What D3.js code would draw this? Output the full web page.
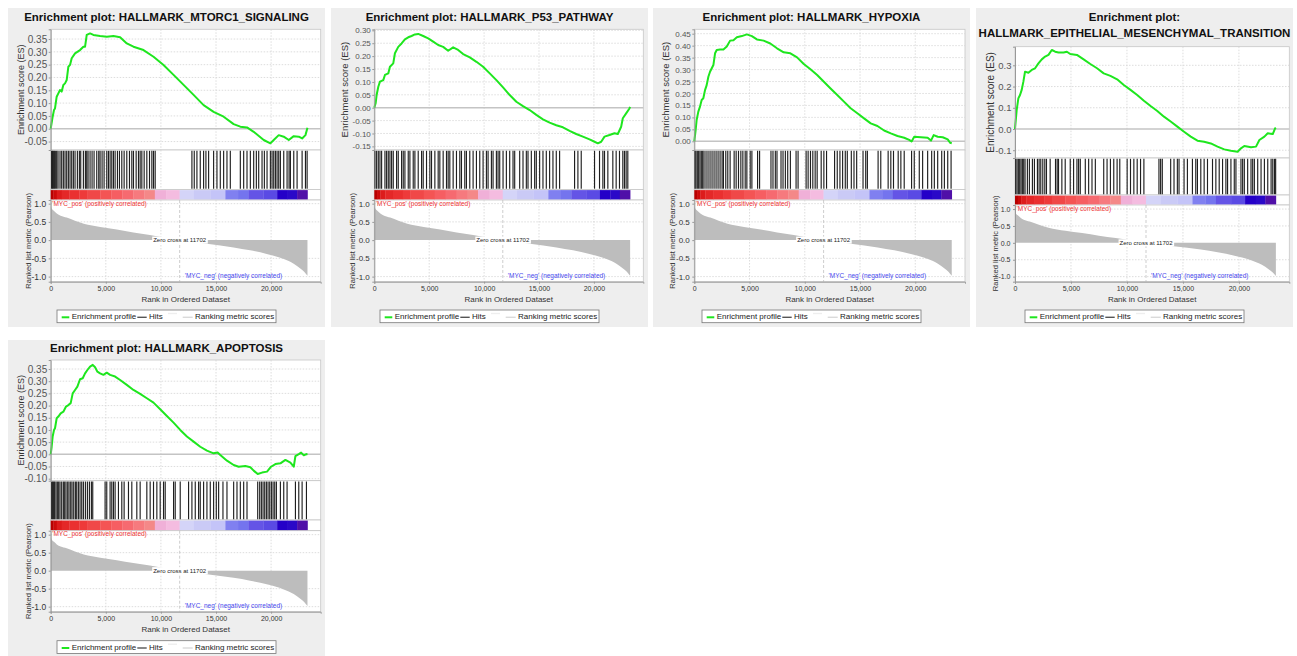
<!DOCTYPE html>
<html>
<head>
<meta charset="utf-8">
<script src="https://cdn.jsdelivr.net/npm/d3@7.9.0/dist/d3.min.js"></script>
<style>
  body { margin: 0; background: #fff; }
  svg { display: block; }
</style>
</head>
<body>
<svg id="chart" width="1297" height="656"></svg>
<script>
const FONT = "'Liberation Sans', Arial, sans-serif";
const RANK_MAX = 24500;
const N_GENES = 23300;
const ZERO_CROSS = 11702;
const RANK_TICKS = [0, 5000, 10000, 15000, 20000];
const METRIC_TICKS = [-1, -0.5, 0, 0.5, 1];

// ranked list metric (Pearson), shared by all plots
const metricRanks = [0, 100, 300, 550, 900, 1450, 2200, 3000, 4500, 6000, 7500, 9000, 10500, 11702,
  12500, 14180, 16600, 18100, 19600, 21150, 22050, 22650, 23000, 23300];
const metricValues = [0.93, 0.86, 0.8, 0.73, 0.67, 0.62, 0.53, 0.45, 0.36, 0.29, 0.21, 0.14, 0.06, 0,
  -0.03, -0.1, -0.2, -0.28, -0.38, -0.52, -0.65, -0.78, -0.87, -0.98];

// heat bar under the hits
const colorBarStarts = [0, 250, 550, 1000, 1700, 2600, 3300, 4500, 5500, 6500, 7500, 8500, 9450, 10500,
  11700, 13000, 14500, 15850, 17000, 17950, 19300, 20550, 21500, 22360];
const colorBarColors = ['#b80000', '#cc0a0a', '#dd1c1c', '#e42828', '#ea3030', '#ee3a3a', '#f04848', '#f45454',
  '#f65e62', '#f66a70', '#f67a7e', '#f48888', '#f0b0d8', '#f4bce0', '#d4d4f8', '#cacaf6', '#c4c4f8',
  '#8080f0', '#7474ee', '#6454e6', '#5a4ae4', '#2400c8', '#2a08c8', '#5010a8'];

// HALLMARK_MTORC1_SIGNALING
const mtorc1EsRanks = [0, 179, 300, 391, 542, 694, 845, 997, 1148, 1300, 1451, 1603, 1754, 1906, 2209, 2663,
  2966, 3118, 3269, 3572, 3875, 4481, 5087, 5693, 6299, 6905, 7511, 8420, 9329, 10238, 11147, 12056, 12965,
  13874, 14783, 15692, 16601, 17207, 17813, 18419, 19328, 19934, 20237, 20692, 21146, 21601, 22055, 22510,
  22813, 23116, 23300];
const mtorc1EsValues = [0, 0.047, 0.073, 0.079, 0.125, 0.138, 0.151, 0.145, 0.171, 0.177, 0.19, 0.242, 0.249,
  0.275, 0.294, 0.307, 0.32, 0.32, 0.366, 0.372, 0.366, 0.362, 0.359, 0.362, 0.357, 0.333, 0.32, 0.307, 0.281,
  0.249, 0.21, 0.171, 0.132, 0.092, 0.066, 0.047, 0.018, 0.008, 0.005, -0.012, -0.044, -0.057, -0.044, -0.025,
  -0.031, -0.044, -0.029, -0.031, -0.038, -0.025, 0.004];
const mtorc1Hits = [88, 148, 239, 330, 421, 542, 664, 845, 997, 1148, 1300, 1451, 1603, 1754, 1906, 2057, 2209,
  2421, 2603, 2724, 2966, 3148, 3269, 3390, 3572, 3754, 3936, 4178, 4360, 4481, 4663, 4845, 5087, 5239, 5390,
  5542, 5693, 5845, 6057, 6239, 6451, 6663, 6905, 7148, 7360, 7511, 7754, 7966, 8117, 8269, 8481, 8723, 8966,
  9178, 9329, 9481, 12814, 13026, 13268, 13571, 13874, 14086, 14329, 14783, 15086, 15389, 15692, 15995, 16298,
  17207, 17510, 17813, 18116, 18419, 18661, 18874, 19177, 19389, 19631, 19934, 20086, 20237, 20389, 20540,
  20692, 20843, 21146, 21449, 21631, 21752, 22055, 22358, 22813, 23116, 23267];
const mtorc1EsTicks = [-0.05, 0, 0.05, 0.1, 0.15, 0.2, 0.25, 0.3, 0.35];

// HALLMARK_P53_PATHWAY
const p53EsRanks = [0, 121, 212, 364, 515, 818, 970, 1273, 1424, 1727, 1879, 2182, 2485, 2788, 3091, 3394, 3697,
  3999, 4454, 4909, 5363, 5818, 6272, 6727, 7181, 7636, 8090, 8696, 9302, 9908, 10514, 11120, 11726, 12332,
  12938, 13544, 14150, 14756, 15362, 15968, 16574, 17180, 17786, 18392, 18998, 19604, 20059, 20362, 20665,
  20968, 21422, 21877, 22180, 22483, 22634, 22937, 23240, 23300];
const p53EsValues = [0, 0.017, 0.049, 0.081, 0.101, 0.107, 0.127, 0.133, 0.159, 0.172, 0.211, 0.236, 0.249,
  0.265, 0.273, 0.278, 0.284, 0.286, 0.278, 0.269, 0.256, 0.243, 0.236, 0.221, 0.234, 0.224, 0.208, 0.195,
  0.178, 0.159, 0.133, 0.107, 0.079, 0.049, 0.023, 0.006, -0.009, -0.028, -0.045, -0.058, -0.068, -0.076,
  -0.09, -0.102, -0.112, -0.123, -0.132, -0.138, -0.132, -0.112, -0.106, -0.099, -0.102, -0.074, -0.041,
  -0.022, -0.003, 0.003];
const p53Hits = [61, 212, 364, 515, 667, 970, 1121, 1273, 1424, 1576, 1727, 2030, 2182, 2485, 2636, 2788, 3091,
  3242, 3545, 3697, 4000, 4303, 4454, 4757, 5060, 5212, 5515, 5818, 5969, 6272, 6575, 6727, 6878, 7181, 7484,
  7787, 7939, 8242, 8393, 8696, 8999, 9302, 9605, 9908, 10211, 10363, 10666, 10817, 11120, 11272, 11423,
  11726, 12029, 12332, 12635, 12787, 13241, 13544, 13847, 13999, 14302, 14605, 14756, 15059, 15362, 15665,
  15968, 16271, 16574, 16877, 18241, 18544, 18847, 20059, 20513, 20816, 20968, 21271, 21725, 22028, 22331,
  22634, 22786, 22937, 23089];
const p53EsTicks = [-0.15, -0.1, -0.05, 0, 0.05, 0.1, 0.15, 0.2, 0.25, 0.3];

// HALLMARK_HYPOXIA
const hypoxiaEsRanks = [0, 121, 212, 364, 515, 667, 818, 970, 1121, 1273, 1424, 1727, 1879, 2030, 2333, 2636,
  2939, 3242, 3545, 3848, 4302, 4757, 5211, 5666, 6272, 6878, 7484, 8090, 8696, 9302, 9908, 10514, 11120,
  11726, 12332, 12938, 13544, 14150, 14756, 15362, 15968, 16574, 17180, 17786, 18392, 18998, 19453, 19665,
  19907, 20513, 21119, 21422, 21665, 22028, 22483, 22937, 23150, 23300];
const hypoxiaEsValues = [0, 0.047, 0.089, 0.124, 0.145, 0.173, 0.18, 0.214, 0.235, 0.27, 0.291, 0.319, 0.368,
  0.382, 0.384, 0.384, 0.396, 0.421, 0.423, 0.435, 0.44, 0.447, 0.44, 0.426, 0.421, 0.409, 0.389, 0.372, 0.368,
  0.351, 0.323, 0.301, 0.277, 0.249, 0.221, 0.194, 0.166, 0.138, 0.117, 0.096, 0.075, 0.064, 0.045, 0.033,
  0.022, 0.015, 0.006, -0.001, 0.019, 0.017, 0.015, 0.003, 0.026, 0.019, 0.017, 0.008, -0.006, -0.008];
const hypoxiaHits = [61, 152, 273, 394, 515, 636, 758, 879, 1061, 1242, 1424, 1606, 1788, 1970, 2151, 2333, 2515,
  2636, 2848, 3030, 3242, 3606, 3788, 4000, 4212, 4394, 4606, 4757, 5060, 5212, 5727, 5909, 6939, 7121, 7333,
  7484, 7848, 8030, 8242, 8454, 8696, 9211, 9393, 10120, 10302, 10514, 10726, 10938, 11120, 11484, 11726,
  11969, 12696, 12938, 13181, 13423, 13665, 13847, 14211, 14453, 14696, 15271, 15514, 15665, 16635, 16877,
  17544, 17786, 18029, 18453, 18695, 18998, 19665, 19907, 20362, 20665, 21119, 21483, 21725, 22028, 22392,
  22634, 22937, 23240];
const hypoxiaEsTicks = [0, 0.05, 0.1, 0.15, 0.2, 0.25, 0.3, 0.35, 0.4, 0.45];

// HALLMARK_EPITHELIAL_MESENCHYMAL_TRANSITION
const emtEsRanks = [0, 150, 299, 449, 598, 748, 897, 1196, 1495, 1794, 2093, 2392, 2691, 2990, 3289, 3588, 3887,
  4336, 4635, 4934, 5532, 6130, 6728, 7326, 7924, 8522, 9120, 9718, 10316, 10914, 11512, 12110, 12708, 13306,
  13904, 14502, 15100, 15698, 16296, 16894, 17492, 18090, 18688, 19286, 19884, 20183, 20482, 21080, 21528,
  21827, 22276, 22575, 23023, 23232, 23300];
const emtEsValues = [0, 0.089, 0.144, 0.16, 0.184, 0.223, 0.27, 0.265, 0.278, 0.286, 0.309, 0.328, 0.341, 0.349,
  0.372, 0.364, 0.36, 0.36, 0.364, 0.353, 0.349, 0.328, 0.306, 0.286, 0.262, 0.25, 0.234, 0.207, 0.184, 0.16,
  0.133, 0.108, 0.085, 0.058, 0.035, 0.011, -0.013, -0.036, -0.055, -0.06, -0.068, -0.083, -0.096, -0.102,
  -0.107, -0.091, -0.08, -0.086, -0.083, -0.052, -0.036, -0.02, -0.024, 0.003, 0.006];
const emtHits = [60, 179, 299, 419, 538, 658, 777, 897, 1106, 1286, 1555, 1734, 2003, 2153, 2302, 2482, 2661,
  2811, 3140, 3618, 3767, 3887, 4186, 4485, 4934, 5233, 5532, 5681, 5831, 6279, 6578, 6877, 7176, 7924, 8223,
  8522, 8821, 9120, 9359, 10017, 10316, 10615, 10914, 11213, 11512, 12857, 13007, 13156, 13904, 14203, 14502,
  14651, 15100, 15399, 15847, 16146, 16296, 16595, 16894, 17193, 17641, 17940, 18239, 18538, 18837, 18987,
  19286, 19585, 19734, 20183, 20332, 20482, 20781, 21080, 21229, 21379, 21678, 21977, 22276, 22575, 22874,
  23023, 23173, 23280];
const emtEsTicks = [-0.1, 0, 0.1, 0.2, 0.3];

// HALLMARK_APOPTOSIS
const apoptosisEsRanks = [0, 88, 179, 300, 391, 542, 694, 906, 1148, 1391, 1603, 1815, 1997, 2209, 2421, 2663,
  2906, 3118, 3330, 3572, 3815, 4027, 4239, 4481, 4784, 5087, 5390, 5845, 6299, 6905, 7511, 8117, 8723, 9329,
  9935, 10541, 11147, 11753, 12359, 12965, 13571, 14177, 14783, 15147, 15389, 15995, 16601, 17056, 17662,
  18116, 18419, 18783, 19177, 19631, 19995, 20389, 20843, 21298, 21752, 22055, 22207, 22510, 22722, 22964,
  23207, 23300];
const apoptosisEsValues = [0, 0.031, 0.073, 0.1, 0.107, 0.148, 0.155, 0.168, 0.175, 0.196, 0.202, 0.21, 0.25,
  0.264, 0.278, 0.308, 0.312, 0.332, 0.346, 0.36, 0.367, 0.357, 0.339, 0.332, 0.326, 0.335, 0.326, 0.319,
  0.305, 0.285, 0.264, 0.248, 0.23, 0.212, 0.185, 0.157, 0.13, 0.1, 0.073, 0.052, 0.031, 0.015, 0.004, 0.007,
  -0.003, -0.026, -0.044, -0.051, -0.048, -0.053, -0.067, -0.081, -0.075, -0.071, -0.051, -0.04, -0.037,
  -0.023, -0.034, -0.051, -0.007, 0.001, 0.007, -0.004, 0.001, -0.001];
const apoptosisHits = [88, 179, 270, 360, 482, 603, 724, 845, 997, 1148, 1269, 1391, 1542, 1663, 1815, 1936, 2088,
  2239, 2360, 2512, 2663, 2815, 2966, 3148, 3330, 3512, 3693, 3815, 4936, 5087, 5390, 5542, 5693, 5845, 6148,
  6451, 6663, 7057, 7360, 7814, 8117, 8723, 9026, 9329, 9632, 9935, 10238, 10390, 11147, 11299, 11753, 12511,
  12814, 13117, 13420, 13571, 13874, 14177, 14480, 14783, 15026, 15238, 15631, 15995, 16601, 16904, 17207,
  17510, 17813, 18783, 18964, 19116, 19268, 19419, 19571, 19722, 19874, 20025, 20177, 20328, 20480, 20843,
  21146, 21449, 22207, 22510, 22813, 23207];
const apoptosisEsTicks = [-0.1, -0.05, 0, 0.05, 0.1, 0.15, 0.2, 0.25, 0.3, 0.35];

const panels = [
  {
    title: ['Enrichment plot: HALLMARK_MTORC1_SIGNALING'], titleY: [21], box: [8, 8, 317, 319],
    left: 50.7, right: 320.7, esTop: 29.3, esBottom: 150, hitsBottom: 189.5, barBottom: 200, metricBottom: 281.7,
    esDomain: [-0.083, 0.388], metricDomain: [-1.14, 1.1], esTicks: mtorc1EsTicks, esDigits: 2,
    esRanks: mtorc1EsRanks, esValues: mtorc1EsValues, hits: mtorc1Hits,
    esFont: 10, esLabelFont: 9, metricFont: 8.5, metricLabelFont: 7.6,
    esLabelX: 20.7, metricLabelX: 28.3, xTitleY: 302.2, legendY: 310,
  },
  {
    title: ['Enrichment plot: HALLMARK_P53_PATHWAY'], titleY: [21], box: [331, 8, 317, 319],
    left: 374.3, right: 643.3, esTop: 29.3, esBottom: 150, hitsBottom: 189.5, barBottom: 200, metricBottom: 281.7,
    esDomain: [-0.164, 0.304], metricDomain: [-1.14, 1.1], esTicks: p53EsTicks, esDigits: 2,
    esRanks: p53EsRanks, esValues: p53EsValues, hits: p53Hits,
    esFont: 8, esLabelFont: 9.5, metricFont: 8, metricLabelFont: 7.6,
    esLabelX: 344.3, metricLabelX: 352, xTitleY: 302.2, legendY: 310,
  },
  {
    title: ['Enrichment plot: HALLMARK_HYPOXIA'], titleY: [21], box: [653, 8, 317, 319],
    left: 694.3, right: 965, esTop: 29.3, esBottom: 150, hitsBottom: 189.5, barBottom: 200, metricBottom: 281.7,
    esDomain: [-0.0364, 0.4684], metricDomain: [-1.14, 1.1], esTicks: hypoxiaEsTicks, esDigits: 2,
    esRanks: hypoxiaEsRanks, esValues: hypoxiaEsValues, hits: hypoxiaHits,
    esFont: 8, esLabelFont: 9.5, metricFont: 8, metricLabelFont: 7.6,
    esLabelX: 666, metricLabelX: 672, xTitleY: 302.2, legendY: 310,
  },
  {
    title: ['Enrichment plot:', 'HALLMARK_EPITHELIAL_MESENCHYMAL_TRANSITION'], titleY: [21, 37.3], box: [976, 8, 317, 319],
    left: 1015, right: 1289.3, esTop: 46.7, esBottom: 158, hitsBottom: 195, barBottom: 205, metricBottom: 281.7,
    esDomain: [-0.1366, 0.3876], metricDomain: [-1.15, 1.12], esTicks: emtEsTicks, esDigits: 1,
    esRanks: emtEsRanks, esValues: emtEsValues, hits: emtHits,
    esFont: 9.5, esLabelFont: 10, metricFont: 7, metricLabelFont: 7.6,
    esLabelX: 990, metricLabelX: 995.5, xTitleY: 302.2, legendY: 310,
  },
  {
    title: ['Enrichment plot: HALLMARK_APOPTOSIS'], titleY: [351.7], box: [8, 340, 317, 316],
    left: 50.7, right: 320.7, esTop: 360, esBottom: 480.7, hitsBottom: 520, barBottom: 530.7, metricBottom: 611.7,
    esDomain: [-0.1083, 0.387], metricDomain: [-1.14, 1.11], esTicks: apoptosisEsTicks, esDigits: 2,
    esRanks: apoptosisEsRanks, esValues: apoptosisEsValues, hits: apoptosisHits,
    esFont: 10, esLabelFont: 9, metricFont: 8.5, metricLabelFont: 7.6,
    esLabelX: 20.7, metricLabelX: 28.3, xTitleY: 632.2, legendY: 640.7,
  },
];

const svg = d3.select('#chart').attr('font-family', FONT);

function styleAxis(axisG, fontSize, color) {
  axisG.attr('font-family', FONT).attr('font-size', fontSize);
  axisG.select('.domain').attr('stroke', '#999');
  axisG.selectAll('.tick line').attr('stroke', '#999');
  axisG.selectAll('.tick text').attr('fill', color);
}

function drawPanel(p) {
  const g = svg.append('g');
  const [bx, by, bw, bh] = p.box;

  g.append('rect')
    .attr('x', bx).attr('y', by).attr('width', bw).attr('height', bh)
    .attr('fill', '#eeeeee');

  p.title.forEach((line, i) => {
    g.append('text')
      .attr('x', bx + bw / 2).attr('y', p.titleY[i])
      .attr('text-anchor', 'middle')
      .attr('font-size', 11.5).attr('font-weight', 'bold').attr('fill', '#111')
      .text(line);
  });

  const x = d3.scaleLinear().domain([0, RANK_MAX]).range([p.left, p.right]);
  const yEs = d3.scaleLinear().domain(p.esDomain).range([p.esBottom, p.esTop]);
  const yMetric = d3.scaleLinear().domain(p.metricDomain).range([p.metricBottom, p.barBottom]);
  const plotWidth = p.right - p.left;

  // white plot areas: ES, hits, colour bar, ranked metric
  const areas = [[p.esTop, p.esBottom], [p.esBottom, p.hitsBottom], [p.hitsBottom, p.barBottom], [p.barBottom, p.metricBottom]];
  g.selectAll('rect.plot')
    .data(areas)
    .join('rect')
    .attr('class', 'plot')
    .attr('x', p.left).attr('y', (d) => d[0])
    .attr('width', plotWidth).attr('height', (d) => d[1] - d[0])
    .attr('fill', '#fff').attr('stroke', '#c6c6c6').attr('stroke-width', 0.8);

  // dotted grid
  const gridRanks = RANK_TICKS.filter((d) => d > 0);
  [[p.esTop, p.esBottom], [p.esBottom, p.hitsBottom], [p.barBottom, p.metricBottom]].forEach(([top, bottom]) => {
    g.selectAll(null)
      .data(gridRanks)
      .join('line')
      .attr('x1', (d) => x(d)).attr('x2', (d) => x(d))
      .attr('y1', top).attr('y2', bottom)
      .attr('stroke', '#d4d4d4').attr('stroke-width', 0.8).attr('stroke-dasharray', '1.5,1.5');
  });
  g.selectAll(null)
    .data(p.esTicks.filter((d) => d !== 0))
    .join('line')
    .attr('x1', p.left).attr('x2', p.right)
    .attr('y1', (d) => yEs(d)).attr('y2', (d) => yEs(d))
    .attr('stroke', '#d4d4d4').attr('stroke-width', 0.8).attr('stroke-dasharray', '1.5,1.5');
  g.selectAll(null)
    .data(METRIC_TICKS.filter((d) => d !== 0))
    .join('line')
    .attr('x1', p.left).attr('x2', p.right)
    .attr('y1', (d) => yMetric(d)).attr('y2', (d) => yMetric(d))
    .attr('stroke', '#d4d4d4').attr('stroke-width', 0.8).attr('stroke-dasharray', '1.5,1.5');

  // ES zero line
  g.append('line')
    .attr('x1', p.left).attr('x2', p.right)
    .attr('y1', yEs(0)).attr('y2', yEs(0))
    .attr('stroke', '#c4c4c4').attr('stroke-width', 1.6);

  // running enrichment score
  const esLine = d3.line().x((d) => x(d[0])).y((d) => yEs(d[1]));
  g.append('path')
    .datum(d3.zip(p.esRanks, p.esValues))
    .attr('d', esLine)
    .attr('fill', 'none').attr('stroke', '#1ee61e').attr('stroke-width', 2)
    .attr('stroke-linejoin', 'round');

  // hits
  g.selectAll(null)
    .data(p.hits)
    .join('line')
    .attr('x1', (d) => x(d)).attr('x2', (d) => x(d))
    .attr('y1', p.esBottom + 0.8).attr('y2', p.hitsBottom - 0.8)
    .attr('stroke', '#000').attr('stroke-opacity', 0.88).attr('stroke-width', 1.15);

  // colour bar
  const barEnds = colorBarStarts.slice(1).concat(N_GENES);
  g.selectAll(null)
    .data(d3.zip(colorBarStarts, barEnds, colorBarColors))
    .join('rect')
    .attr('x', (d) => x(d[0])).attr('width', (d) => x(d[1]) - x(d[0]) + 0.3)
    .attr('y', p.hitsBottom + 0.6).attr('height', p.barBottom - p.hitsBottom - 1.2)
    .attr('fill', (d) => d[2]);

  // ranked list metric
  const metricArea = d3.area()
    .x((d) => x(d[0]))
    .y0(yMetric(0))
    .y1((d) => yMetric(d[1]))
    .curve(d3.curveMonotoneX);
  g.append('path')
    .datum(d3.zip(metricRanks, metricValues))
    .attr('d', metricArea)
    .attr('fill', '#bdbdbd');

  g.append('line')
    .attr('x1', x(ZERO_CROSS)).attr('x2', x(ZERO_CROSS))
    .attr('y1', p.barBottom).attr('y2', p.metricBottom)
    .attr('stroke', '#c0c0c0').attr('stroke-width', 0.8).attr('stroke-dasharray', '3,2');

  const zeroLabel = g.append('text')
    .attr('x', x(ZERO_CROSS)).attr('y', yMetric(0) + 2)
    .attr('text-anchor', 'middle').attr('font-size', 6).attr('fill', '#222')
    .text(`Zero cross at ${ZERO_CROSS}`);
  const zb = zeroLabel.node().getBBox();
  g.insert('rect', () => zeroLabel.node())
    .attr('x', zb.x - 1).attr('y', zb.y - 0.5).attr('width', zb.width + 2).attr('height', zb.height + 1)
    .attr('fill', '#fff');

  g.append('text')
    .attr('x', p.left + 1.5).attr('y', p.barBottom + 5.6)
    .attr('font-size', 6.5).attr('fill', '#ee3333')
    .text("'MYC_pos' (positively correlated)");
  g.append('text')
    .attr('x', x(ZERO_CROSS) + 5).attr('y', p.metricBottom - 4.2)
    .attr('font-size', 6.5).attr('fill', '#4848ee')
    .text("'MYC_neg' (negatively correlated)");

  // axes
  g.append('g')
    .attr('transform', `translate(${p.left},0)`)
    .call(d3.axisLeft(yEs).tickValues(p.esTicks).tickFormat((d) => d.toFixed(p.esDigits)).tickSize(2).tickPadding(1.5))
    .call((a) => styleAxis(a, p.esFont, '#555'));

  g.append('g')
    .attr('transform', `translate(${p.left},0)`)
    .call(d3.axisLeft(yMetric).tickValues(METRIC_TICKS).tickFormat((d) => d.toFixed(1)).tickSize(2).tickPadding(2.5))
    .call((a) => styleAxis(a, p.metricFont, '#333'));

  g.append('g')
    .attr('transform', `translate(0,${p.metricBottom})`)
    .call(d3.axisBottom(x).tickValues(RANK_TICKS).tickFormat(d3.format(',')).tickSize(2).tickPadding(2.5))
    .call((a) => styleAxis(a, 7, '#333'));

  // axis titles
  g.append('text')
    .attr('transform', `translate(${p.esLabelX},${(p.esTop + p.esBottom) / 2}) rotate(-90)`)
    .attr('dy', '0.35em').attr('text-anchor', 'middle')
    .attr('font-size', p.esLabelFont).attr('fill', '#333')
    .text('Enrichment score (ES)');
  g.append('text')
    .attr('transform', `translate(${p.metricLabelX},${(p.barBottom + p.metricBottom) / 2}) rotate(-90)`)
    .attr('dy', '0.35em').attr('text-anchor', 'middle')
    .attr('font-size', p.metricLabelFont).attr('fill', '#333')
    .text('Ranked list metric (Pearson)');
  g.append('text')
    .attr('x', (p.left + p.right) / 2).attr('y', p.xTitleY)
    .attr('text-anchor', 'middle').attr('font-size', 8).attr('fill', '#333')
    .text('Rank in Ordered Dataset');

  // legend
  const lx = bx + bw / 2 - 109.5;
  const ly = p.legendY;
  const legend = g.append('g').attr('transform', `translate(${lx},${ly})`);
  legend.append('rect')
    .attr('width', 219).attr('height', 12.7)
    .attr('fill', '#fff').attr('stroke', '#777').attr('stroke-width', 0.8);
  const items = [
    { x1: 4.7, x2: 12.3, y: 7.3, color: '#1ee61e', width: 2, label: 'Enrichment profile', tx: 14.7 },
    { x1: 80.3, x2: 89.7, y: 7.3, color: '#555', width: 1.4, label: 'Hits', tx: 92 },
    { x1: 111, x2: 120, y: 3.5, color: '#eeeeee', width: 1.4, label: '', tx: 0 },
    { x1: 125.7, x2: 135.7, y: 7.3, color: '#dadada', width: 1.4, label: 'Ranking metric scores', tx: 138 },
  ];
  items.forEach((item) => {
    legend.append('line')
      .attr('x1', item.x1).attr('x2', item.x2).attr('y1', item.y).attr('y2', item.y)
      .attr('stroke', item.color).attr('stroke-width', item.width);
    if (item.label) {
      legend.append('text')
        .attr('x', item.tx).attr('y', 9.4)
        .attr('font-size', 8).attr('fill', '#222')
        .text(item.label);
    }
  });
}

panels.forEach(drawPanel);
</script>
</body>
</html>
